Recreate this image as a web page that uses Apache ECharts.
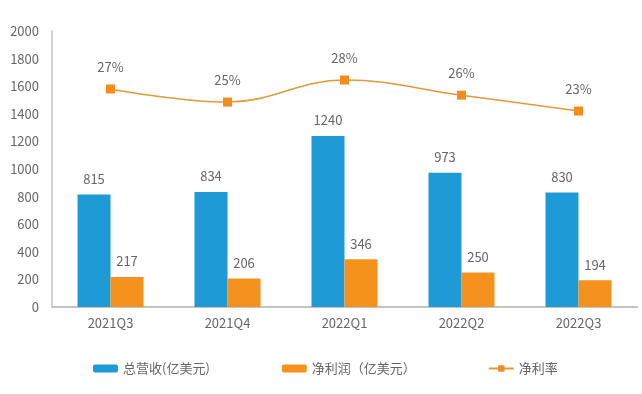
<!DOCTYPE html>
<html>
<head>
<meta charset="utf-8">
<script src="https://cdn.jsdelivr.net/npm/echarts@6/dist/echarts.min.js"></script>
<style>html,body{margin:0;padding:0;background:#fff;}#c{width:642px;height:394px;}</style>
</head>
<body>
<div id="c"></div>
<script>
const categories = ['2021Q3', '2021Q4', '2022Q1', '2022Q2', '2022Q3'];
const revenue = [815, 834, 1240, 973, 830];
const netProfit = [217, 206, 346, 250, 194];
const netMargin = [26.6, 24.7, 27.9, 25.7, 23.4];
const yTicks = [0, 200, 400, 600, 800, 1000, 1200, 1400, 1600, 1800, 2000];
const seriesNames = ['总营收(亿美元)', '净利润（亿美元）', '净利率'];

const FONT = '"Noto Sans CJK SC", "Noto Sans", sans-serif';
const chart = echarts.init(document.getElementById('c'), null, {renderer: 'canvas'});
chart.setOption({
  animation: false,
  backgroundColor: '#fff',
  textStyle: {fontFamily: FONT},
  grid: {left: 52, right: 5, top: 31, bottom: 87, containLabel: false},
  legend: {
    left: 88, top: 357,
    itemWidth: 25, itemHeight: 8, itemGap: 72,
    textStyle: {fontFamily: FONT, fontSize: 13, color: '#666'},
    data: seriesNames
  },
  xAxis: {
    type: 'category',
    data: categories,
    axisLine: {lineStyle: {color: '#c4c4c4', width: 2}},
    axisTick: {show: false},
    axisLabel: {fontFamily: FONT, fontSize: 13, color: '#666', margin: 10}
  },
  yAxis: [{
    type: 'value', min: yTicks[0], max: yTicks[yTicks.length - 1], interval: 200,
    axisLine: {show: true, lineStyle: {color: '#c4c4c4', width: 1.5}},
    axisTick: {show: false},
    splitLine: {show: false},
    axisLabel: {fontFamily: FONT, fontSize: 13, color: '#666', margin: 13, formatter: v => String(v)}
  }, {
    type: 'value', min: -5, max: 35, show: false, splitLine: {show: false}
  }],
  series: [{
    name: seriesNames[0], type: 'bar', data: revenue,
    barWidth: 33, barGap: '0%',
    itemStyle: {color: '#1e9bd7'},
    label: {show: true, position: 'top', distance: 9, fontFamily: FONT, fontSize: 13, color: '#666'}
  }, {
    name: seriesNames[1], type: 'bar', data: netProfit,
    barWidth: 33,
    itemStyle: {color: '#f5921e'},
    label: {show: true, position: 'top', distance: 9, fontFamily: FONT, fontSize: 13, color: '#666'}
  }, {
    name: seriesNames[2], type: 'line', yAxisIndex: 1, data: netMargin,
    smooth: 0.4,
    symbol: 'rect', symbolSize: 9,
    lineStyle: {color: '#e39a3a', width: 1.6},
    itemStyle: {color: '#f28c1e'},
    label: {show: true, position: 'top', distance: 11, fontFamily: FONT, fontSize: 13, color: '#666',
      formatter: p => Math.round(p.value) + '%'}
  }]
});
</script>
</body>
</html>
